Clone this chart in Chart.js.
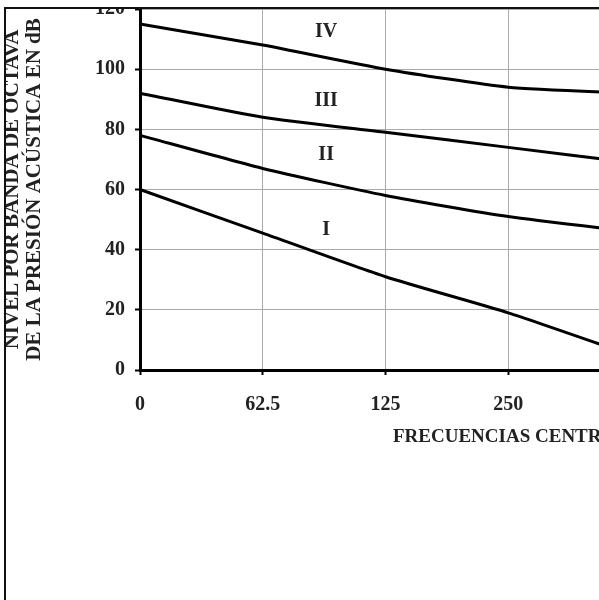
<!DOCTYPE html>
<html>
<head>
<meta charset="utf-8">
<script src="https://cdn.jsdelivr.net/npm/chart.js@4/dist/chart.umd.min.js"></script>
<style>
  html, body { margin: 0; padding: 0; background: #fff; }
  body { width: 599px; height: 600px; overflow: hidden; position: relative; }
  #marc { position: absolute; left: 5px; top: 8px; right: 0; bottom: 0; overflow: hidden; }
  #caixa { position: absolute; left: -5px; top: -35px; width: 664px; height: 520px; }
  .vora { position: absolute; background: #111; }
</style>
</head>
<body>
<div id="marc">
  <div id="caixa"><canvas id="grafic"></canvas></div>
</div>
<div class="vora" style="left:4px; top:7px; width:2px; height:593px;"></div>
<div class="vora" style="left:4px; top:7px; width:595px; height:2px;"></div>
<script>
// ---------- Dades ----------
const frequencies = ["0", "62.5", "125", "250", "500"];
const corbaI   = [60, 45.5, 31, 19, 5];
const corbaII  = [78, 67, 58, 51, 46];
const corbaIII = [92, 84, 79, 74, 69];
const corbaIV  = [115, 108, 100, 94, 92];
const nomsCorbes = ["I", "II", "III", "IV"];
const ticksY = [0, 20, 40, 60, 80, 100, 120];

const lletra = "'Liberation Serif', 'DejaVu Serif', serif";

// etiquetes I..IV i títol de l'eix X
const textos = {
  id: "textos",
  afterDatasetsDraw(chart) {
    const ctx = chart.ctx;
    const x = chart.scales.x, y = chart.scales.y;
    const xm = (x.getPixelForValue(1) + x.getPixelForValue(2)) / 2;
    const nivells = [46.5, 71.5, 89.5, 112.5];
    ctx.save();
    ctx.fillStyle = "#222";
    ctx.font = "bold 20px " + lletra;
    ctx.textAlign = "center";
    ctx.textBaseline = "middle";
    nomsCorbes.forEach((nom, i) => {
      ctx.fillText(nom, xm + 2, y.getPixelForValue(nivells[i]));
    });
    ctx.font = "bold 19px " + lletra;
    ctx.textAlign = "left";
    ctx.fillText("FRECUENCIAS CENTRALES DE BANDAS DE OCTAVA EN Hz", 393, y.bottom + 67);
    ctx.restore();
  }
};

const linia = (dades) => ({
  data: dades,
  borderColor: "#000",
  borderWidth: 3,
  pointRadius: 0,
  tension: 0.2,
  fill: false
});

new Chart(document.getElementById("grafic"), {
  type: "line",
  data: {
    labels: frequencies,
    datasets: [linia(corbaI), linia(corbaII), linia(corbaIII), linia(corbaIV)]
  },
  options: {
    responsive: true,
    maintainAspectRatio: false,
    animation: false,
    layout: { padding: { left: 0, right: 30, top: 36, bottom: 73 } },
    plugins: { legend: { display: false }, tooltip: { enabled: false } },
    scales: {
      x: {
        type: "category",
        offset: false,
        afterFit: s => { s.height = 50; },
        grid: { color: "#aaa", lineWidth: 1, tickLength: 5, tickColor: "#000", tickWidth: 2 },
        border: { color: "#000", width: 3 },
        ticks: {
          color: "#222", padding: 18, maxRotation: 0, autoSkip: false,
          font: { family: lletra, size: 20, weight: "bold" }
        }
      },
      y: {
        min: 0,
        max: 120,
        afterFit: s => { s.width = 140; },
        afterBuildTicks: s => { s.ticks = ticksY.map(v => ({ value: v })); },
        grid: { color: "#aaa", lineWidth: 1, tickLength: 5, tickColor: "#000", tickWidth: 2 },
        border: { color: "#000", width: 3 },
        ticks: {
          color: "#222", padding: 10,
          font: { family: lletra, size: 20, weight: "bold" }
        },
        title: {
          display: true,
          text: ["NIVEL POR BANDA DE OCTAVA", "DE LA PRESIÓN ACÚSTICA EN dB"],
          color: "#222",
          padding: { top: 2, bottom: 0 },
          font: { family: lletra, size: 21, weight: "bold", lineHeight: 1.05 }
        }
      }
    }
  },
  plugins: [textos]
});
</script>
</body>
</html>
